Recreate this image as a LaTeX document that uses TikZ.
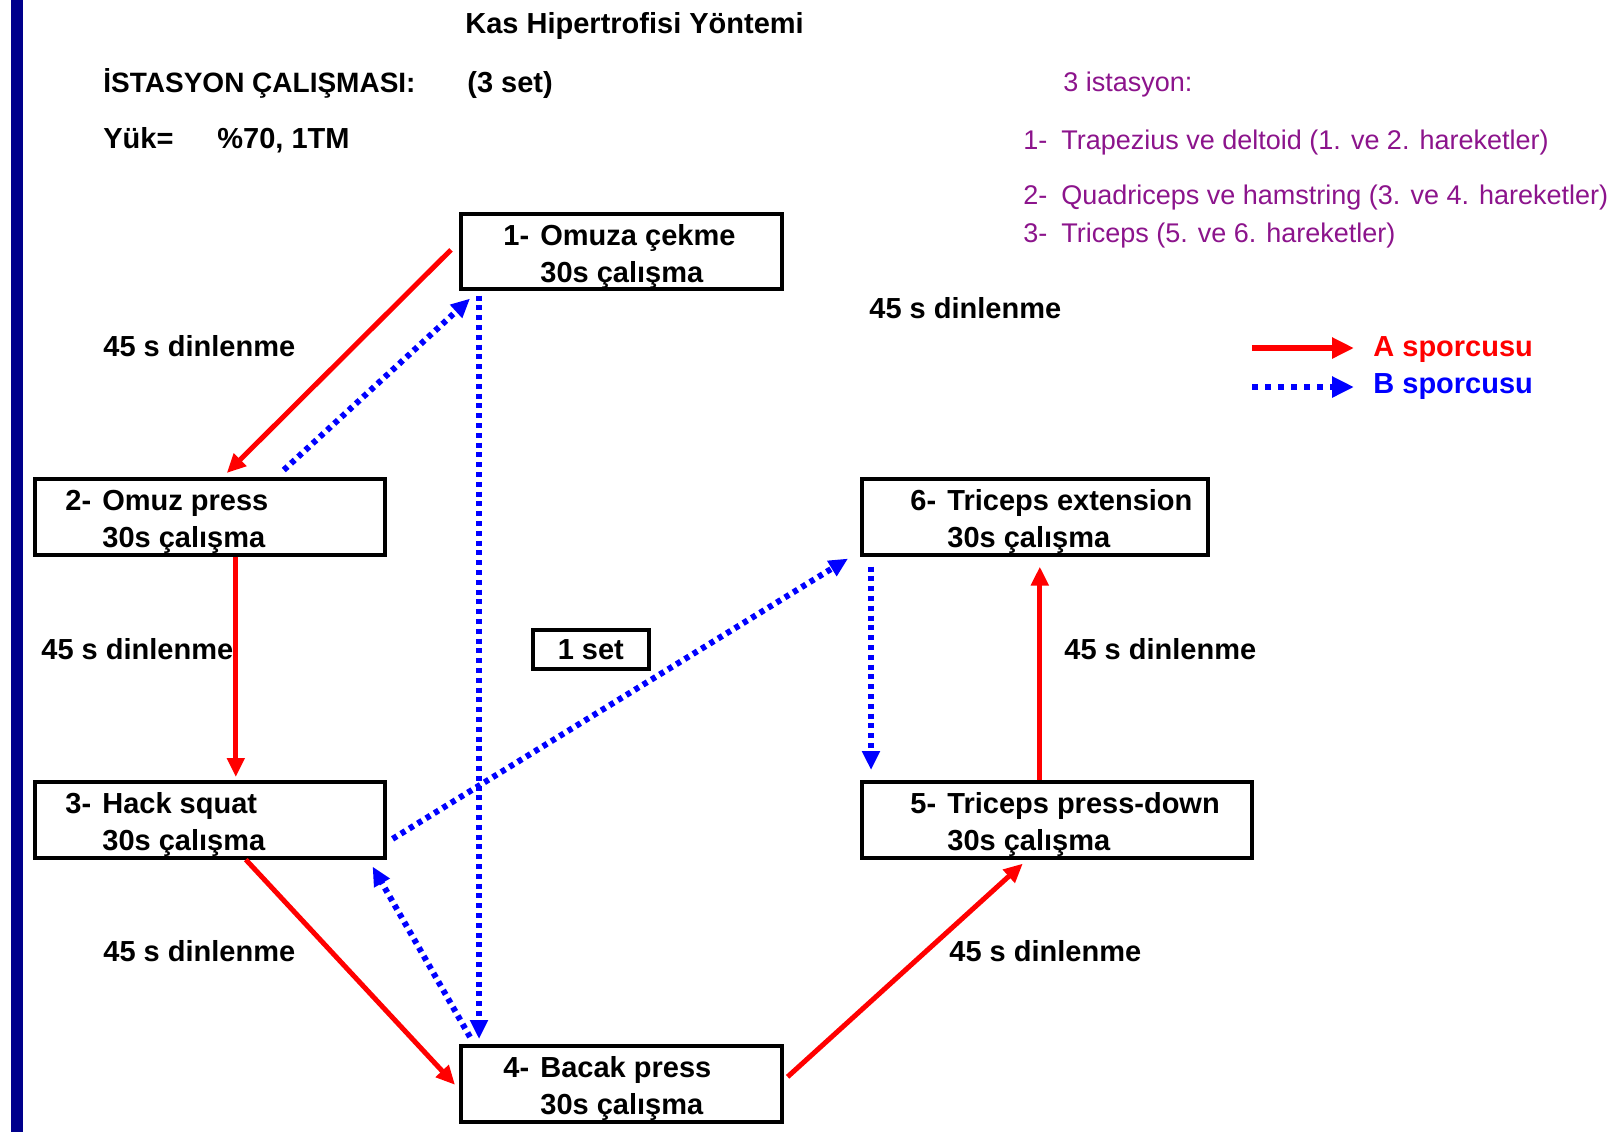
\documentclass[tikz,border=0pt]{standalone}
\usepackage{fontspec}
\setmainfont{Liberation Sans}
\usepackage{tikz}
\usetikzlibrary{arrows.meta,calc}

\definecolor{barnavy}{RGB}{0,0,140}
\definecolor{listpurple}{RGB}{140,20,140}
\definecolor{routeA}{RGB}{255,0,0}
\definecolor{routeB}{RGB}{0,0,255}

\newcommand{\stnum}[1]{\makebox[18.5pt][l]{#1}}
\newcommand{\itemnum}[1]{\makebox[19pt][l]{#1}}

\begin{document}
\begin{tikzpicture}[x=0.5pt,y=-0.5pt,
  station/.style={draw,line width=1.8pt,anchor=north west,inner sep=0pt},
  steptext/.style={anchor=west,align=left,inner sep=0pt,font=\fontsize{14.5}{18.5}\selectfont\bfseries},
  lbl/.style={anchor=base west,inner sep=0pt,font=\fontsize{14.5}{17}\selectfont\bfseries},
  plist/.style={anchor=base west,inner sep=0pt,text=listpurple,font=\fontsize{13.5}{17}\selectfont},
  pathA/.style={draw=routeA,line width=2.5pt,-{Triangle[length=9.5pt,width=8.5pt]}},
  pathB/.style={draw=routeB,line width=3pt,dash pattern=on 2.5pt off 2.4pt,-{Triangle[length=9.5pt,width=8.5pt]}}]
  \fill[white] (0,0) rectangle (1621,1132);
  \useasboundingbox (0,0) rectangle (1621,1132);
  \fill[barnavy] (11,0) rectangle (23,1132);

  % header
  \node[lbl] (title) at (465,33) {Kas Hipertrofisi Yöntemi};
  \node[lbl,font=\fontsize{14}{17}\selectfont\bfseries] (stname) at (103,92) {İSTASYON ÇALIŞMASI:};
  \node[lbl] (sets) at (467,92) {(3 set)};
  \node[lbl] (load) at (103,148) {Yük=};
  \node[lbl] (loadval) at (217,148) {\%70, 1TM};

  % muscle groups
  \node[plist] (plhead) at (1063,91) {3 istasyon:};
  \node[plist] (pl1) at (1023,149) {\itemnum{1-}Trapezius ve deltoid (1. ve 2. hareketler)};
  \node[plist] (pl2) at (1023,204) {\itemnum{2-}Quadriceps ve hamstring (3. ve 4. hareketler)};
  \node[plist] (pl3) at (1023,242) {\itemnum{3-}Triceps (5. ve 6. hareketler)};

  % stations
  \node[station,minimum width=160.5pt,minimum height=37.5pt] (s1) at (459,212) {};
  \node[station,minimum width=175pt,minimum height=38pt] (s2) at (33,477) {};
  \node[station,minimum width=175pt,minimum height=38pt] (s3) at (33,780) {};
  \node[station,minimum width=160.5pt,minimum height=38pt] (s4) at (459,1044) {};
  \node[station,minimum width=195pt,minimum height=38pt] (s5) at (860,780) {};
  \node[station,minimum width=173pt,minimum height=38pt] (s6) at (860,477) {};
  \node[steptext] (t1) at ($(s1.west)+(44,5)$) {\stnum{1-}Omuza çekme\\\stnum{}30s çalışma};
  \node[steptext] (t2) at ($(s2.west)+(32,5)$) {\stnum{2-}Omuz press\\\stnum{}30s çalışma};
  \node[steptext] (t3) at ($(s3.west)+(32,5)$) {\stnum{3-}Hack squat\\\stnum{}30s çalışma};
  \node[steptext] (t4) at ($(s4.west)+(44,5)$) {\stnum{4-}Bacak press\\\stnum{}30s çalışma};
  \node[steptext] (t5) at ($(s5.west)+(50,5)$) {\stnum{5-}Triceps press-down\\\stnum{}30s çalışma};
  \node[steptext] (t6) at ($(s6.west)+(50,5)$) {\stnum{6-}Triceps extension\\\stnum{}30s çalışma};
  \node[station,minimum width=58pt,minimum height=19.5pt,anchor=north west,
    font=\fontsize{14.5}{17}\selectfont\bfseries] (oneset) at (531,628) {1 set};

  % rest labels
  \node[lbl] (restTR) at (869,318) {45 s dinlenme};
  \node[lbl] (restL1) at (103,356) {45 s dinlenme};
  \node[lbl] (restL2) at (41,659) {45 s dinlenme};
  \node[lbl] (restR2) at (1064,659) {45 s dinlenme};
  \node[lbl] (restL3) at (103,961) {45 s dinlenme};
  \node[lbl] (restR3) at (949,961) {45 s dinlenme};

  % athlete A
  \draw[pathA] ($(s1.west)+(-8,-1.5)$) -- ($(s2.north)+(17,-4)$);
  \draw[pathA] ($(s2.south)+(26,0)$) -- ($(s3.north)+(26,-3)$);
  \draw[pathA] ($(s3.south)+(36,0)$) -- ($(s4.west)+(-4,1)$);
  \draw[pathA] ($(s4.east)+(4,-7)$) -- ($(s5.south)+(-34,4)$);
  \draw[pathA] ($(s5.north)+(-17,0)$) -- ($(s6.south)+(5,10)$);

  % athlete B
  \draw[pathB] ($(s2.north)+(74,-7)$) -- ($(s1.south west)+(11,8)$);
  \draw[pathB] ($(s1.south west)+(20,5)$) -- ($(s4.north west)+(20,-5)$);
  \draw[pathB] ($(s4.north west)+(11,-7)$) -- ($(s3.south east)+(-14,7)$);
  \draw[pathB] ($(s3.east)+(6,19)$) -- ($(s6.south west)+(-12,2)$);
  \draw[pathB] ($(s6.south west)+(11,10)$) -- ($(s5.north west)+(11,-10)$);

  % legend
  \coordinate (legA0) at (1252,348);
  \coordinate (legA1) at (1354,348);
  \coordinate (legB0) at (1252,387);
  \coordinate (legB1) at (1354,387);
  \draw[draw=routeA,line width=3.4pt,-{Triangle[length=11pt,width=10pt]}] (legA0) -- (legA1);
  \draw[draw=routeB,line width=3.2pt,dash pattern=on 3pt off 3.5pt,-{Triangle[length=11pt,width=10pt]}] (legB0) -- (legB1);
  \node[lbl,text=routeA] (legA) at (1373,356) {A sporcusu};
  \node[lbl,text=routeB] (legB) at (1373,393) {B sporcusu};
\end{tikzpicture}
\end{document}
